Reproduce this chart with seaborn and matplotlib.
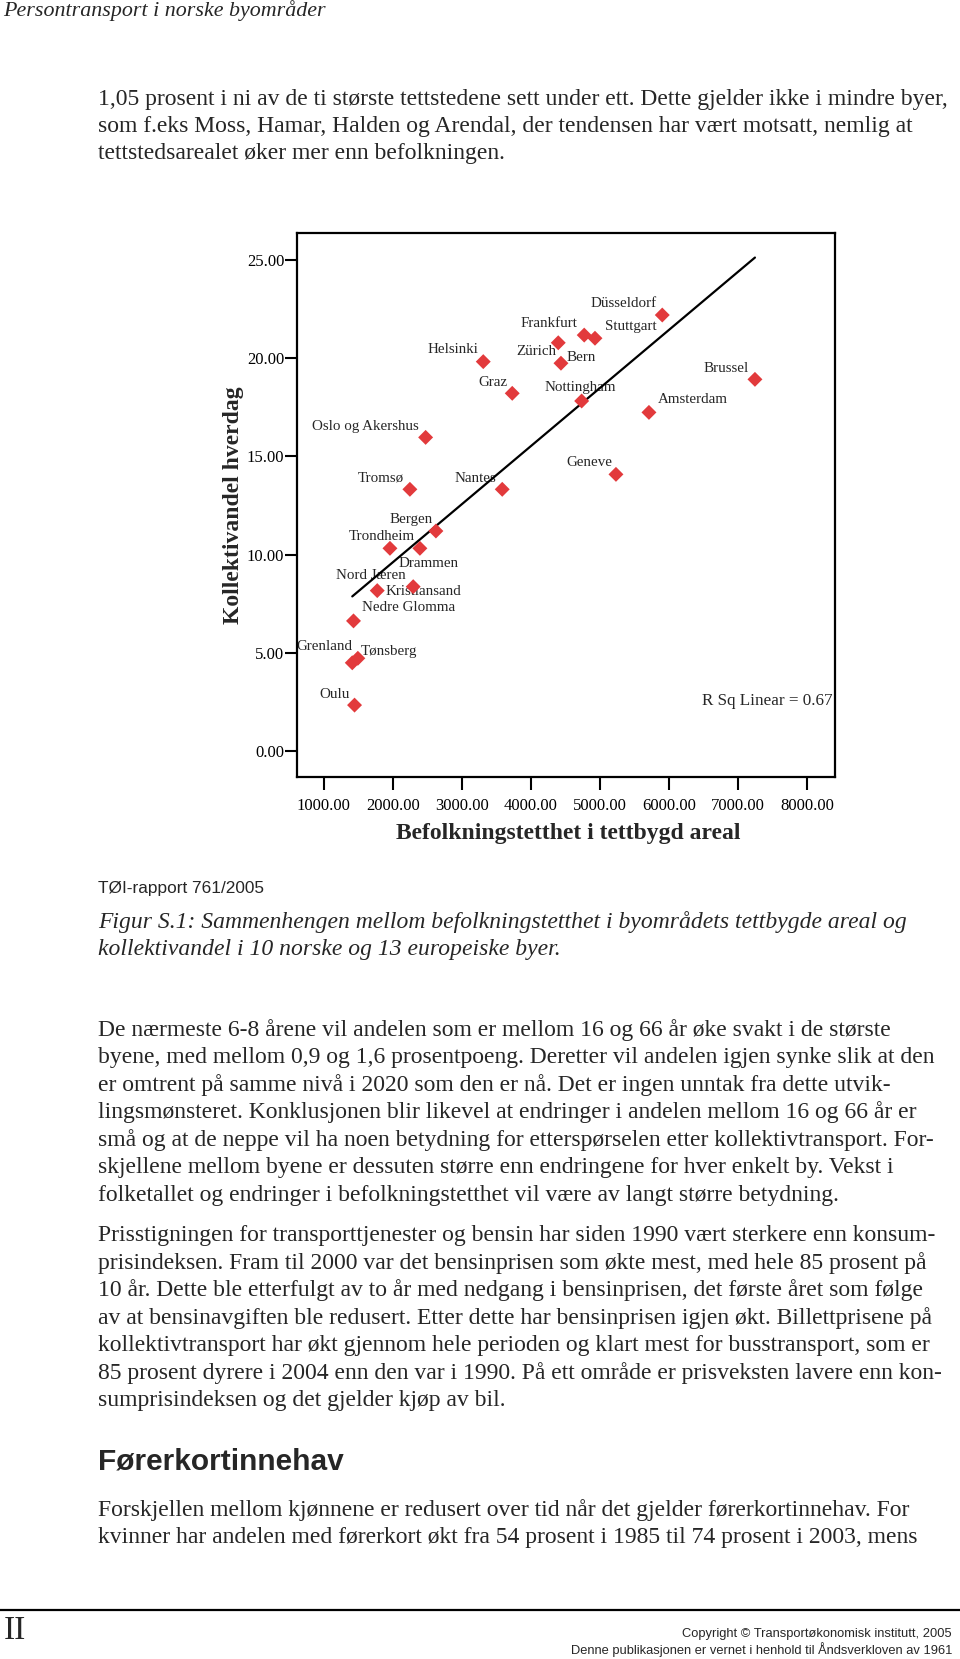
import numpy as np
import pandas as pd
import matplotlib
matplotlib.use("Agg")
import matplotlib.pyplot as plt
from matplotlib.lines import Line2D
import seaborn as sns

# values: population density in built-up area vs transit share (weekday)
cities = ["Helsinki", "Graz", "Oslo og Akershus", "Tromsø", "Nantes", "Bergen",
          "Trondheim", "Drammen", "Nord Jæren", "Kristiansand", "Nedre Glomma",
          "Grenland", "Tønsberg", "Oulu", "Düsseldorf", "Frankfurt", "Stuttgart",
          "Zürich", "Bern", "Nottingham", "Amsterdam", "Brussel", "Geneve"]
density = [3309, 3729, 2474, 2246, 3584, 2623, 2391, 1957, 2294, 1773, 1429,
           1411, 1492, 1444, 5903, 4772, 4928, 4435, 4396, 4735, 5710, 7246, 5232]
share = [19.81, 18.20, 15.96, 13.32, 13.32, 11.20, 10.32, 10.32, 8.37, 8.17, 6.63,
         4.50, 4.73, 2.35, 22.18, 21.16, 21.00, 19.73, 20.77, 17.81, 17.23, 18.91, 14.08]
x_ticks = [1000, 2000, 3000, 4000, 5000, 6000, 7000, 8000]
y_ticks = [0, 5, 10, 15, 20, 25]
x_title = "Befolkningstetthet i tettbygd areal"
y_title = "Kollektivandel hverdag"

# where each point label sits relative to its marker (pixels, ha)
label_pos = {
    "Helsinki": (-5, 12, "right"), "Graz": (-5, 11, "right"),
    "Oslo og Akershus": (-7, 11, "right"), "Tromsø": (-6, 11, "right"),
    "Nantes": (-6, 11, "right"), "Bergen": (-3, 12, "right"),
    "Trondheim": (-5, 12, "right"), "Drammen": (9, -15, "left"),
    "Nord Jæren": (-7, 11, "right"), "Kristiansand": (8, -1, "left"),
    "Nedre Glomma": (8, 13, "left"), "Grenland": (0, 16, "right"),
    "Tønsberg": (3, 7, "left"), "Oulu": (-5, 11, "right"),
    "Düsseldorf": (-6, 12, "right"), "Frankfurt": (-7, 12, "right"),
    "Stuttgart": (10, 12, "left"), "Zürich": (-5, 12, "right"),
    "Bern": (8, -15, "left"), "Nottingham": (-1, 13, "center"),
    "Amsterdam": (9, 13, "left"), "Brussel": (-6, 11, "right"),
    "Geneve": (-4, 12, "right"),
}

header = "Persontransport i norske byområder"
para1 = ["1,05 prosent i ni av de ti største tettstedene sett under ett. Dette gjelder ikke i mindre byer,",
         "som f.eks Moss, Hamar, Halden og Arendal, der tendensen har vært motsatt, nemlig at",
         "tettstedsarealet øker mer enn befolkningen."]
source = "TØI-rapport 761/2005"
caption = ["Figur S.1: Sammenhengen mellom befolkningstetthet i byområdets tettbygde areal og",
           "kollektivandel i 10 norske og 13 europeiske byer."]
para2 = ["De nærmeste 6-8 årene vil andelen som er mellom 16 og 66 år øke svakt i de største",
         "byene, med mellom 0,9 og 1,6 prosentpoeng. Deretter vil andelen igjen synke slik at den",
         "er omtrent på samme nivå i 2020 som den er nå. Det er ingen unntak fra dette utvik-",
         "lingsmønsteret. Konklusjonen blir likevel at endringer i andelen mellom 16 og 66 år er",
         "små og at de neppe vil ha noen betydning for etterspørselen etter kollektivtransport. For-",
         "skjellene mellom byene er dessuten større enn endringene for hver enkelt by. Vekst i",
         "folketallet og endringer i befolkningstetthet vil være av langt større betydning."]
para3 = ["Prisstigningen for transporttjenester og bensin har siden 1990 vært sterkere enn konsum-",
         "prisindeksen. Fram til 2000 var det bensinprisen som økte mest, med hele 85 prosent på",
         "10 år. Dette ble etterfulgt av to år med nedgang i bensinprisen, det første året som følge",
         "av at bensinavgiften ble redusert. Etter dette har bensinprisen igjen økt. Billettprisene på",
         "kollektivtransport har økt gjennom hele perioden og klart mest for busstransport, som er",
         "85 prosent dyrere i 2004 enn den var i 1990. På ett område er prisveksten lavere enn kon-",
         "sumprisindeksen og det gjelder kjøp av bil."]
heading = "Førerkortinnehav"
para4 = ["Forskjellen mellom kjønnene er redusert over tid når det gjelder førerkortinnehav. For",
         "kvinner har andelen med førerkort økt fra 54 prosent i 1985 til 74 prosent i 2003, mens"]
page_no = "II"
copyright = ["Copyright © Transportøkonomisk institutt, 2005",
             "Denne publikasjonen er vernet i henhold til Åndsverkloven av 1961"]

df = pd.DataFrame({"city": cities, "density": density, "share": share})

sns.set_style("ticks")
plt.rcParams["font.family"] = ["Liberation Serif", "DejaVu Serif"]

W, H = 960, 1659
fig = plt.figure(figsize=(W / 100, H / 100), dpi=100)
fig.patch.set_facecolor("white")

def put(txt, x, y, **kw):
    fig.text(x / W, 1 - y / H, txt, va="center", **kw)

serif = "Liberation Serif"
sans = "Liberation Sans"

put(header, 3, 11, fontsize=15.8, style="italic", family=serif)
for i, t in enumerate(para1):
    put(t, 98, 99 + i * 27.5, fontsize=17, family=serif)
put(source, 98, 888, fontsize=12.4, family=sans)
for i, t in enumerate(caption):
    put(t, 98, 922 + i * 27.5, fontsize=17, style="italic", family=serif)
for i, t in enumerate(para2):
    put(t, 98, 1030 + i * 27.5, fontsize=17, family=serif)
for i, t in enumerate(para3):
    put(t, 98, 1235.5 + i * 27.5, fontsize=17, family=serif)
put(heading, 98, 1461, fontsize=21.5, weight="bold", family=sans)
for i, t in enumerate(para4):
    put(t, 98, 1510.5 + i * 27.5, fontsize=17, family=serif)
fig.add_artist(Line2D([0, 1], [1 - 1610 / H, 1 - 1610 / H], transform=fig.transFigure,
                      color="black", lw=1.6))
put(page_no, 4, 1631, fontsize=24, family=serif)
put(copyright[0], 952, 1634, fontsize=9.3, family=sans, ha="right")
put(copyright[1], 952, 1650, fontsize=9.3, family=sans, ha="right")

# scatter chart
ax = fig.add_axes([297.4 / W, 1 - 776.9 / H, 537.6 / W, 544.1 / H])
sns.regplot(data=df, x="density", y="share", scatter=False, ci=None, truncate=True,
            color="black", line_kws={"lw": 1.6, "zorder": 3}, ax=ax)
sns.scatterplot(data=df, x="density", y="share", marker="D", s=58, color="#E23A3C",
                edgecolor="none", zorder=4, ax=ax)

for c, xv, yv in zip(cities, density, share):
    dx, dy, ha = label_pos[c]
    ax.annotate(c, (xv, yv), xytext=(dx, dy), textcoords="offset pixels",
                ha=ha, va="center", fontsize=10.8, family=serif, zorder=1)

r = np.corrcoef(density, share)[0, 1]
ax.text(0.996, 0.140, f"R Sq Linear = {r ** 2:.2f}", transform=ax.transAxes,
        ha="right", va="center", fontsize=12.3, family=serif)

ax.set_xlim(616, 8406)
ax.set_ylim(-1.30, 26.36)
ax.set_xticks(x_ticks)
ax.set_xticklabels([f"{v:.2f}" for v in x_ticks])
ax.set_yticks(y_ticks)
ax.set_yticklabels([f"{v:.2f}" for v in y_ticks])
ax.tick_params(axis="both", direction="out", length=9, width=1.5, colors="black",
               labelsize=12, top=False, right=False)
ax.tick_params(axis="y", pad=0.5)
ax.tick_params(axis="x", pad=6.3)
for s in ax.spines.values():
    s.set_visible(True)
    s.set_color("black")
    s.set_linewidth(1.6)

ax.set_xlabel(x_title, fontsize=17, fontweight="bold", family=serif)
ax.set_ylabel(y_title, fontsize=17, fontweight="bold", family=serif)
ax.xaxis.set_label_coords(0.504, -0.085)
ax.yaxis.set_label_coords(-0.099, 0.5)

fig.savefig("out.png", dpi=100, facecolor="white")
